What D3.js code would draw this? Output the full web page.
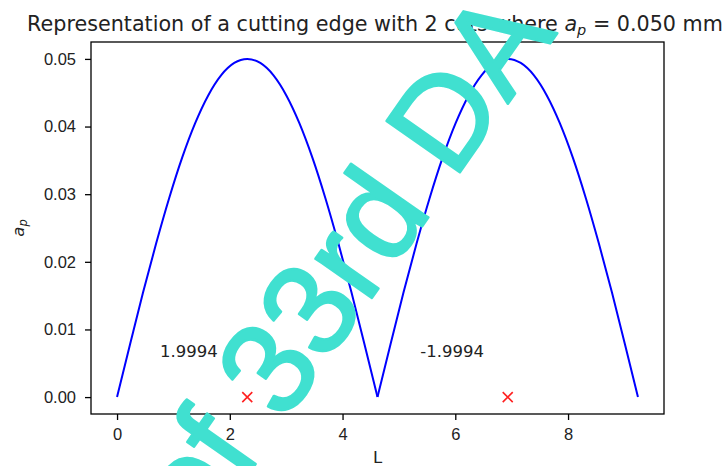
<!DOCTYPE html>
<html>
<head>
<meta charset="utf-8">
<script src="https://cdn.jsdelivr.net/npm/d3@7"></script>
<style>
  body { margin: 0; background: #fff; }
  svg { display: block; font-family: "DejaVu Sans", sans-serif; }
  .axis path, .axis line { stroke: #000; stroke-width: 1.3px; }
  .axis text { fill: #222; font-size: 16.5px; }
</style>
</head>
<body>
<div class="chart"></div>
<script>
// cutting edge profile
var cutL = [0, 0.231, 0.462, 0.693, 0.924, 1.155, 1.386, 1.617, 1.848, 2.079,
            2.31, 2.541, 2.772, 3.003, 3.234, 3.465, 3.696, 3.927, 4.158, 4.389,
            4.62, 4.851, 5.082, 5.313, 5.544, 5.775, 6.006, 6.237, 6.468, 6.699,
            6.93, 7.161, 7.392, 7.623, 7.854, 8.085, 8.316, 8.547, 8.778, 9.009, 9.24];
var cutAp = [0, 0.0078, 0.0155, 0.0227, 0.0294, 0.0354, 0.0405, 0.0446, 0.0476, 0.0494,
             0.05, 0.0494, 0.0476, 0.0446, 0.0405, 0.0354, 0.0294, 0.0227, 0.0155, 0.0078,
             0, 0.0078, 0.0155, 0.0227, 0.0294, 0.0354, 0.0405, 0.0446, 0.0476, 0.0494,
             0.05, 0.0494, 0.0476, 0.0446, 0.0405, 0.0354, 0.0294, 0.0227, 0.0155, 0.0078, 0];
// the two cuts start/end indexes
var cutBreaks = [0, 20, 40];

// red markers at the peaks
var peakL = [2.31, 6.93];
var peakAp = [0, 0];

// slope labels
var labelText = ["1.9994", "-1.9994"];
var labelL = [0.76, 5.38];
var labelAp = [0.006, 0.006];

var xTicks = [0, 2, 4, 6, 8];
var yTicks = [0, 0.01, 0.02, 0.03, 0.04, 0.05];

var watermarkText = "of 33rd DA";

var width = 727, height = 466;
var margin = { top: 42, left: 91, right: 63, bottom: 52 };

var svg = d3.select(".chart").append("svg")
    .attr("width", width)
    .attr("height", height);

// matplotlib style 5% padding
var xMax = d3.max(cutL), yMax = d3.max(cutAp);
var xScale = d3.scaleLinear()
    .domain([-xMax * 0.05, xMax * 1.05])
    .range([margin.left, width - margin.right]);
var yScale = d3.scaleLinear()
    .domain([-yMax * 0.05, yMax * 1.05])
    .range([height - margin.bottom, margin.top]);

// frame
svg.append("rect")
    .attr("x", margin.left)
    .attr("y", margin.top)
    .attr("width", width - margin.left - margin.right)
    .attr("height", height - margin.top - margin.bottom)
    .attr("fill", "none")
    .attr("stroke", "#000")
    .attr("stroke-width", 1.3);

var xAxis = d3.axisBottom(xScale).tickValues(xTicks).tickFormat(d3.format("d"))
    .tickSizeOuter(0).tickSize(6).tickPadding(8);
var yAxis = d3.axisLeft(yScale).tickValues(yTicks)
    .tickFormat(function(d) { return d === 0.05 ? "0.05" : d3.format(".2f")(d); })
    .tickSizeOuter(0).tickSize(6).tickPadding(9);

svg.append("g")
    .attr("class", "x axis")
    .attr("transform", "translate(0," + (height - margin.bottom) + ")")
    .call(xAxis)
    .call(function(g) { g.select(".domain").remove(); });
svg.append("g")
    .attr("class", "y axis")
    .attr("transform", "translate(" + margin.left + ",0)")
    .call(yAxis)
    .call(function(g) { g.select(".domain").remove(); });

// the curve, one path per cut so the cusp stays sharp
var points = cutL.map(function(l, i) { return { l: l, ap: cutAp[i] }; });
var line = d3.line()
    .x(function(d) { return xScale(d.l); })
    .y(function(d) { return yScale(d.ap); })
    .curve(d3.curveMonotoneX);
for (var c = 0; c < cutBreaks.length - 1; c++) {
  svg.append("path")
      .datum(points.slice(cutBreaks[c], cutBreaks[c + 1] + 1))
      .attr("d", line)
      .attr("fill", "none")
      .attr("stroke", "#0000ff")
      .attr("stroke-width", 2);
}

// peak markers
var s = 5;
peakL.forEach(function(l, i) {
  var px = xScale(l), py = yScale(peakAp[i]);
  svg.append("path")
      .attr("d", "M" + (px - s) + "," + (py - s) + "L" + (px + s) + "," + (py + s) +
                 "M" + (px - s) + "," + (py + s) + "L" + (px + s) + "," + (py - s))
      .attr("stroke", "#ff2020")
      .attr("stroke-width", 1.6);
});

// labels
labelText.forEach(function(t, i) {
  svg.append("text")
      .attr("x", xScale(labelL[i]))
      .attr("y", yScale(labelAp[i]))
      .attr("fill", "#222")
      .style("font-size", "16.5px")
      .text(t);
});

// title
var title = svg.append("text")
    .attr("x", 375)
    .attr("y", 31)
    .attr("text-anchor", "middle")
    .attr("fill", "#222")
    .style("font-size", "20.7px");
title.append("tspan").text("Representation of a cutting edge with 2 cuts where ");
title.append("tspan").style("font-style", "italic").text("a");
title.append("tspan").style("font-style", "italic").style("font-size", "14.5px").attr("dy", 4).text("p");
title.append("tspan").attr("dy", -4).text(" = 0.050 mm");

// axis labels
svg.append("text")
    .attr("x", (margin.left + width - margin.right) / 2)
    .attr("y", 463)
    .attr("text-anchor", "middle")
    .attr("fill", "#222")
    .style("font-size", "16.5px")
    .text("L");
var yl = svg.append("text")
    .attr("transform", "translate(24," + ((margin.top + height - margin.bottom) / 2) + ") rotate(-90)")
    .attr("text-anchor", "middle")
    .attr("fill", "#222")
    .style("font-size", "16.5px");
yl.append("tspan").style("font-style", "italic").text("a");
yl.append("tspan").style("font-style", "italic").style("font-size", "11.5px").attr("dy", 3).text("p");

// watermark laid over the figure
svg.append("text")
    .attr("transform", "translate(201,542) rotate(-55)")
    .attr("fill", "#40e0d0")
    .attr("stroke", "#40e0d0")
    .attr("stroke-width", 2.5)
    .attr("stroke-linejoin", "round")
    .style("font-family", "'Liberation Sans', Arial, sans-serif")
    .style("font-size", "130px")
    .text(watermarkText);
</script>
</body>
</html>
